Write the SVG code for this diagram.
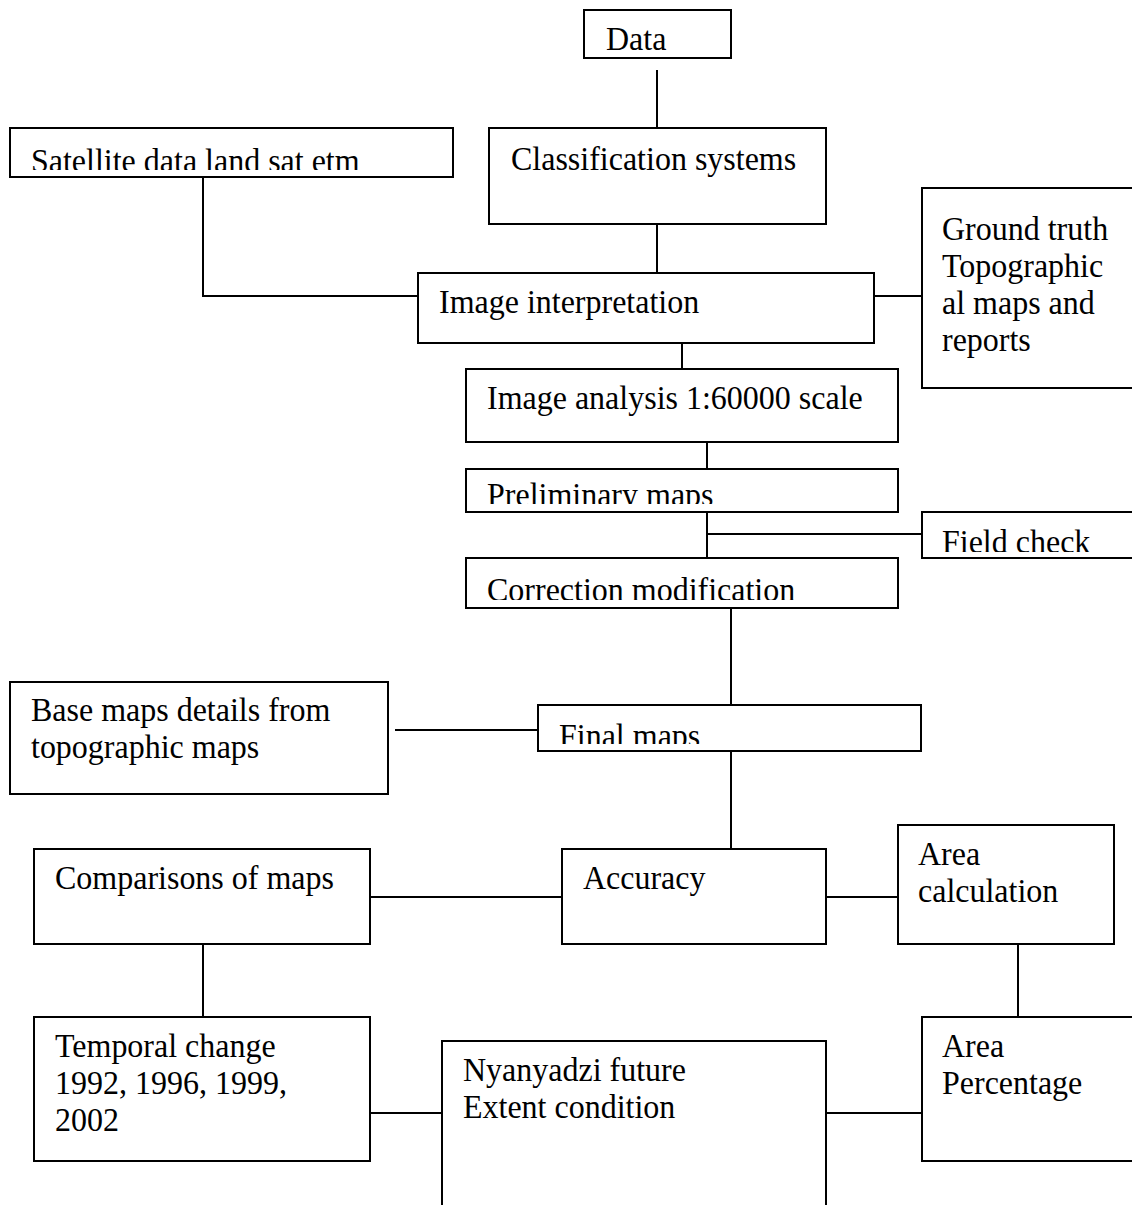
<svg xmlns="http://www.w3.org/2000/svg" width="1132" height="1205" viewBox="0 0 1132 1205">
<style>
.box{fill:#fff;stroke:#000;stroke-width:2}
.c{stroke:#000;stroke-width:2;fill:none}
text{font-family:"Liberation Serif","Times New Roman",serif;font-size:32px;fill:#000;transform-box:fill-box;transform-origin:0 80%;transform:scaleY(1.07)}
</style>
<defs>
<clipPath id="cpData"><rect x="584" y="10" width="147" height="40"/></clipPath>
<clipPath id="cpSat"><rect x="10" y="128" width="443" height="42"/></clipPath>
<clipPath id="cpPre"><rect x="466" y="469" width="432" height="35"/></clipPath>
<clipPath id="cpField"><rect x="922" y="512" width="220" height="40"/></clipPath>
<clipPath id="cpCorr"><rect x="466" y="558" width="432" height="42"/></clipPath>
<clipPath id="cpFinal"><rect x="538" y="705" width="383" height="39"/></clipPath>
</defs>
<rect width="1132" height="1205" fill="#fff"/>
<g id="connectors">
<line class="c" x1="657" y1="70" x2="657" y2="128"/>
<line class="c" x1="657" y1="224" x2="657" y2="273"/>
<polyline class="c" points="203,177 203,296 418,296"/>
<line class="c" x1="874" y1="296" x2="922" y2="296"/>
<line class="c" x1="682" y1="343" x2="682" y2="369"/>
<line class="c" x1="707" y1="438" x2="707" y2="469"/>
<line class="c" x1="707" y1="512" x2="707" y2="558"/>
<line class="c" x1="707" y1="534" x2="922" y2="534"/>
<line class="c" x1="731" y1="608" x2="731" y2="705"/>
<line class="c" x1="395" y1="730" x2="538" y2="730"/>
<line class="c" x1="731" y1="751" x2="731" y2="849"/>
<line class="c" x1="370" y1="897" x2="562" y2="897"/>
<line class="c" x1="826" y1="897" x2="898" y2="897"/>
<line class="c" x1="203" y1="944" x2="203" y2="1017"/>
<line class="c" x1="1018" y1="944" x2="1018" y2="1017"/>
<line class="c" x1="370" y1="1113" x2="442" y2="1113"/>
<line class="c" x1="826" y1="1113" x2="922" y2="1113"/>
</g>
<g id="data"><rect class="box" x="584" y="10" width="147" height="48"/><g clip-path="url(#cpData)"><text x="606" y="50">Data</text></g></g>
<g id="satellite"><rect class="box" x="10" y="128" width="443" height="49"/><g clip-path="url(#cpSat)"><text x="31" y="172">Satellite data land sat etm</text></g></g>
<g id="classification"><rect class="box" x="489" y="128" width="337" height="96"/><text x="511" y="170">Classification systems</text></g>
<g id="groundtruth"><rect class="box" x="922" y="188" width="220" height="200"/><text x="942" y="240">Ground truth</text><text x="942" y="277">Topographic</text><text x="942" y="314">al maps and</text><text x="942" y="351">reports</text></g>
<g id="interpretation"><rect class="box" x="418" y="273" width="456" height="70"/><text x="439" y="313">Image interpretation</text></g>
<g id="analysis"><rect class="box" x="466" y="369" width="432" height="73"/><text x="487" y="409">Image analysis 1:60000 scale</text></g>
<g id="preliminary"><rect class="box" x="466" y="469" width="432" height="43"/><g clip-path="url(#cpPre)"><text x="487" y="506">Preliminary maps</text></g></g>
<g id="fieldcheck"><rect class="box" x="922" y="512" width="220" height="46"/><g clip-path="url(#cpField)"><text x="942" y="553">Field check</text></g></g>
<g id="correction"><rect class="box" x="466" y="558" width="432" height="50"/><g clip-path="url(#cpCorr)"><text x="487" y="601">Correction modification</text></g></g>
<g id="basemaps"><rect class="box" x="10" y="682" width="378" height="112"/><text x="31" y="721">Base maps details from</text><text x="31" y="758">topographic maps</text></g>
<g id="finalmaps"><rect class="box" x="538" y="705" width="383" height="46"/><g clip-path="url(#cpFinal)"><text x="559" y="747">Final maps</text></g></g>
<g id="comparisons"><rect class="box" x="34" y="849" width="336" height="95"/><text x="55" y="889">Comparisons of maps</text></g>
<g id="accuracy"><rect class="box" x="562" y="849" width="264" height="95"/><text x="583" y="889">Accuracy</text></g>
<g id="areacalc"><rect class="box" x="898" y="825" width="216" height="119"/><text x="918" y="865">Area</text><text x="918" y="902">calculation</text></g>
<g id="temporal"><rect class="box" x="34" y="1017" width="336" height="144"/><text x="55" y="1057">Temporal change</text><text x="55" y="1094">1992, 1996, 1999,</text><text x="55" y="1131">2002</text></g>
<g id="nyanyadzi"><rect class="box" x="442" y="1041" width="384" height="200"/><text x="463" y="1081">Nyanyadzi future</text><text x="463" y="1118">Extent condition</text></g>
<g id="areapct"><rect class="box" x="922" y="1017" width="220" height="144"/><text x="942" y="1057">Area</text><text x="942" y="1094">Percentage</text></g>
</svg>
